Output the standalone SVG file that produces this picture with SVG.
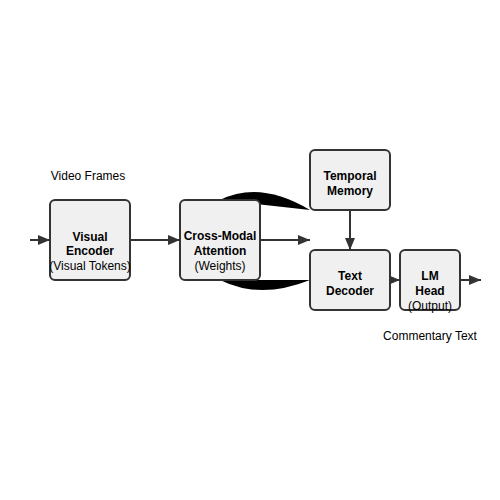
<svg xmlns="http://www.w3.org/2000/svg" width="500" height="500" viewBox="0 0 500 500">
<style>
.box{fill:#f0f0f0;stroke:#333;stroke-width:2}
.t{font-family:"Liberation Sans",Arial,sans-serif;font-size:12px;fill:#000;text-anchor:middle}
.b{font-weight:bold}
.edge{stroke:#333;stroke-width:2;fill:none}
</style>
<defs>
<marker id="ah" markerUnits="userSpaceOnUse" markerWidth="12" markerHeight="10" viewBox="0 0 12 10" refX="12" refY="5" orient="auto">
<path d="M0,0 L12,5 L0,10 z" fill="#333"/>
</marker>
</defs>
<rect width="500" height="500" fill="#fff"/>
<g id="connectors">
<path d="M220,200 Q260,180 310,210 Z" fill="#000"/>
<path d="M220,280 Q260,300 310,280 Z" fill="#000"/>
<line class="edge" x1="30" y1="240" x2="50" y2="240" marker-end="url(#ah)"/>
<line class="edge" x1="130" y1="240" x2="180" y2="240" marker-end="url(#ah)"/>
<line class="edge" x1="260" y1="240" x2="310" y2="240" marker-end="url(#ah)"/>
<line class="edge" x1="350" y1="210" x2="350" y2="250" marker-end="url(#ah)"/>
<line class="edge" x1="390" y1="280" x2="400" y2="280" marker-end="url(#ah)"/>
<line class="edge" x1="460" y1="280" x2="481" y2="280" marker-end="url(#ah)"/>
</g>
<g id="visual-encoder">
<rect class="box" x="50" y="200" width="80" height="80" rx="5"/>
<text class="t b" x="90" y="241">Visual</text>
<text class="t b" x="90" y="255">Encoder</text>
<text class="t" x="90" y="270">(Visual Tokens)</text>
</g>
<g id="cross-modal">
<rect class="box" x="180" y="200" width="80" height="80" rx="5"/>
<text class="t b" x="220" y="240">Cross-Modal</text>
<text class="t b" x="220" y="255">Attention</text>
<text class="t" x="220" y="270">(Weights)</text>
</g>
<g id="temporal-memory">
<rect class="box" x="310" y="150" width="80" height="60" rx="5"/>
<text class="t b" x="350" y="180">Temporal</text>
<text class="t b" x="350" y="195">Memory</text>
</g>
<g id="text-decoder">
<rect class="box" x="310" y="250" width="80" height="60" rx="5"/>
<text class="t b" x="350" y="280">Text</text>
<text class="t b" x="350" y="295">Decoder</text>
</g>
<g id="lm-head">
<rect class="box" x="400" y="250" width="60" height="60" rx="5"/>
<text class="t b" x="430" y="280">LM</text>
<text class="t b" x="430" y="295">Head</text>
<text class="t" x="430" y="310">(Output)</text>
</g>
<g id="labels">
<text class="t" x="88" y="180">Video Frames</text>
<text class="t" x="430" y="340">Commentary Text</text>
</g>
</svg>
